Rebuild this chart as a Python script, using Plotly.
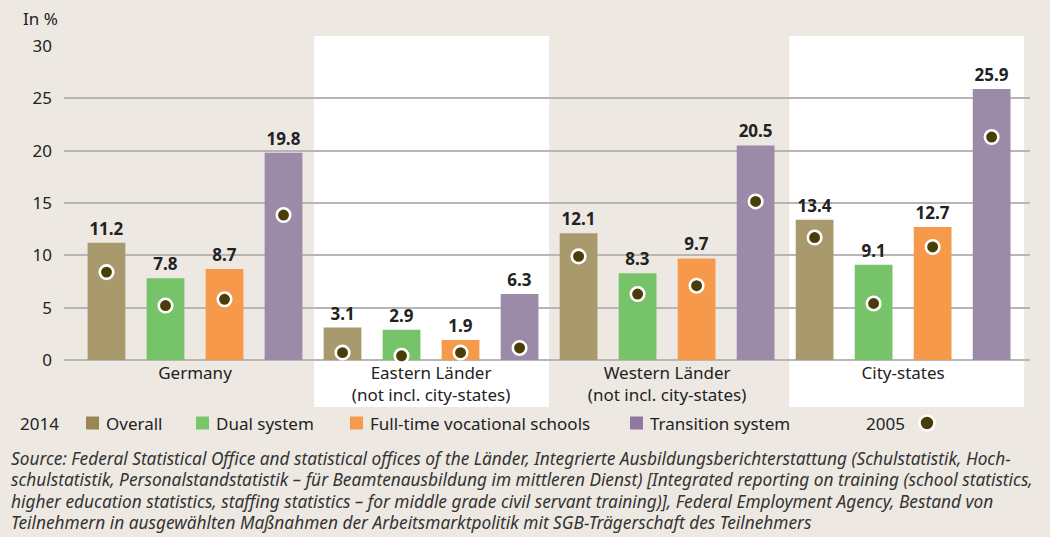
import plotly.graph_objects as go

# ---------------- data ----------------
groups = ["Germany", "Eastern Länder<br>(not incl. city-states)",
          "Western Länder<br>(not incl. city-states)", "City-states"]
series = ["Overall", "Dual system", "Full-time vocational schools", "Transition system"]
overall_2014 = [11.2, 3.1, 12.1, 13.4]
dual_2014 = [7.8, 2.9, 8.3, 9.1]
fulltime_2014 = [8.7, 1.9, 9.7, 12.7]
transition_2014 = [19.8, 6.3, 20.5, 25.9]
overall_2005 = [8.4, 0.7, 9.9, 11.7]
dual_2005 = [5.2, 0.4, 6.3, 5.4]
fulltime_2005 = [5.8, 0.7, 7.1, 10.8]
transition_2005 = [13.85, 1.15, 15.15, 21.3]
y_ticks = [0, 5, 10, 15, 20, 25, 30]
source_lines = [
    "Source: Federal Statistical Office and statistical offices of the Länder, Integrierte Ausbildungsberichterstattung (Schulstatistik, Hoch-",
    "schulstatistik, Personalstandstatistik – für Beamtenausbildung im mittleren Dienst) [Integrated reporting on training (school statistics,",
    "higher education statistics, staffing statistics – for middle grade civil servant training)], Federal Employment Agency, Bestand von",
    "Teilnehmern in ausgewählten Maßnahmen der Arbeitsmarktpolitik mit SGB-Trägerschaft des Teilnehmers",
]

vals_2014 = [overall_2014, dual_2014, fulltime_2014, transition_2014]
vals_2005 = [overall_2005, dual_2005, fulltime_2005, transition_2005]

# ---------------- style ----------------
bar_colors = ["#a99a6e", "#77c36a", "#f6994a", "#9b8aa8"]
swatch_colors = ["#9a8653", "#7ac46c", "#f6994a", "#8d79a1"]
dot_color = "#4a3e08"
bg = "#ede9e2"
grid = "#b7b5b6"
txt = "#222222"
FONT = "Noto Sans"
FS = 17

W, H = 1050, 537
L, R, T, B = 64, 20, 46, 177
pw, ph = W - L - R, H - T - B
def px(x):
    return (x - L) / pw
def py(y):
    return (H - B - y) / ph

n_series = len(series)
fig = go.Figure()

for s in range(n_series):
    xs = [g * n_series + s for g in range(len(groups))]
    fig.add_trace(go.Bar(
        x=xs, y=vals_2014[s], name=series[s], width=0.64,
        marker=dict(color=bar_colors[s], line=dict(width=0)),
        text=[f"{v:.1f}" for v in vals_2014[s]], textposition="outside",
        textfont=dict(family=FONT, size=17, color=txt, weight="bold"),
        cliponaxis=False, showlegend=False,
    ))

for s in range(n_series):
    xs = [g * n_series + s for g in range(len(groups))]
    fig.add_trace(go.Scatter(
        x=xs, y=vals_2005[s], mode="markers", showlegend=False,
        marker=dict(size=13.5, color=dot_color, line=dict(color="white", width=2.6)),
        cliponaxis=False,
    ))

# white background panels for alternating groups
for x0, x1 in [(3.52, 7.5), (11.57, 15.55)]:
    fig.add_shape(type="rect", xref="x", yref="paper", x0=x0, x1=x1,
                  y0=py(407), y1=py(36), fillcolor="white", line=dict(width=0),
                  layer="below")

annotations = []
annotations.append(dict(text="In %", xref="paper", yref="paper", x=px(21), y=py(18),
                        xanchor="left", yanchor="middle", showarrow=False,
                        font=dict(family=FONT, size=FS, color=txt)))

# legend (manual)
leg_y = 423
annotations.append(dict(text="2014", xref="paper", yref="paper", x=px(18), y=py(leg_y),
                        xanchor="left", yanchor="middle", showarrow=False,
                        font=dict(family=FONT, size=FS, color=txt)))
sw_x = [86, 196, 350, 630]
for s in range(n_series):
    fig.add_shape(type="rect", xref="paper", yref="paper",
                  x0=px(sw_x[s]), x1=px(sw_x[s] + 13), y0=py(leg_y + 6.5), y1=py(leg_y - 6.5),
                  fillcolor=swatch_colors[s], line=dict(width=0))
    annotations.append(dict(text=series[s], xref="paper", yref="paper",
                            x=px(sw_x[s] + 18), y=py(leg_y), xanchor="left", yanchor="middle",
                            showarrow=False, font=dict(family=FONT, size=FS, color=txt)))
annotations.append(dict(text="2005", xref="paper", yref="paper", x=px(864), y=py(leg_y),
                        xanchor="left", yanchor="middle", showarrow=False,
                        font=dict(family=FONT, size=FS, color=txt)))
fig.add_shape(type="circle", xref="paper", yref="paper",
              x0=px(927 - 7.5), x1=px(927 + 7.5), y0=py(leg_y + 7.5), y1=py(leg_y - 7.5),
              fillcolor=dot_color, line=dict(color="white", width=2.6))

for i, line in enumerate(source_lines):
    annotations.append(dict(text=f"<i>{line}</i>", xref="paper", yref="paper",
                            x=px(9), y=py(458 + i * 21.6), xanchor="left", yanchor="middle",
                            showarrow=False, font=dict(family=FONT, size=17.3, color="#333333")))

fig.update_layout(
    width=W, height=H, margin=dict(l=L, r=R, t=T, b=B),
    paper_bgcolor=bg, plot_bgcolor="rgba(0,0,0,0)",
    barmode="overlay", showlegend=False,
    font=dict(family=FONT, size=FS, color=txt),
    annotations=annotations,
    xaxis=dict(range=[-0.72, 15.65], tickvals=[1.5, 5.5, 9.5, 13.5], ticktext=groups,
               showgrid=False, zeroline=False, showline=False, ticks="",
               tickfont=dict(family=FONT, size=FS, color=txt), ticklabelstandoff=1),
    yaxis=dict(range=[0, 30], tickvals=y_ticks, showgrid=True, gridcolor=grid, gridwidth=1.6,
               zeroline=True, zerolinecolor=grid, zerolinewidth=1.6, showline=False, ticks="",
               tickfont=dict(family=FONT, size=FS, color=txt), ticklabelstandoff=11),
)

fig.write_html("out.html", config={"displayModeBar": False},
               post_script="document.body.style.margin='0';document.body.style.background='%s';" % bg)
